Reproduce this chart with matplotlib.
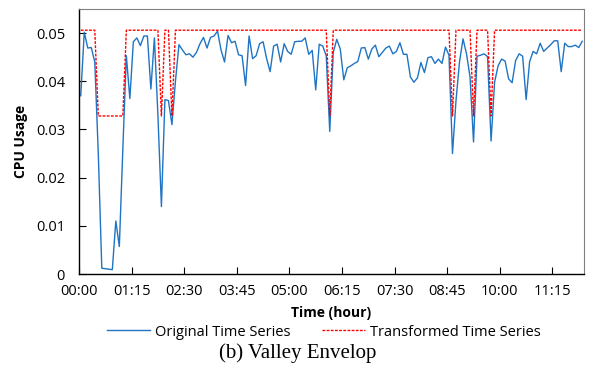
import numpy as np
import matplotlib
matplotlib.use("Agg")
from matplotlib import pyplot as plt

# CPU usage, one sample every 5 minutes (00:00 - 12:00)
original = [
    0.0370, 0.0502, 0.0469, 0.0470, 0.0440, 0.0250, 0.0012, 0.0011, 0.0010, 0.0009, 0.0110, 0.0057,
    0.0260, 0.0453, 0.0364, 0.0482, 0.0490, 0.0474, 0.0494, 0.0494, 0.0384, 0.0490, 0.0330, 0.0140,
    0.0362, 0.0360, 0.0310, 0.0400, 0.0476, 0.0465, 0.0455, 0.0457, 0.0450, 0.0460, 0.0478, 0.0491,
    0.0469, 0.0491, 0.0494, 0.0504, 0.0465, 0.0440, 0.0495, 0.0480, 0.0483, 0.0455, 0.0453, 0.0391,
    0.0494, 0.0447, 0.0453, 0.0478, 0.0482, 0.0447, 0.0420, 0.0473, 0.0477, 0.0440, 0.0478, 0.0462,
    0.0456, 0.0482, 0.0483, 0.0483, 0.0490, 0.0456, 0.0464, 0.0382, 0.0477, 0.0473, 0.0453, 0.0296,
    0.0460, 0.0487, 0.0467, 0.0403, 0.0428, 0.0432, 0.0437, 0.0441, 0.0469, 0.0470, 0.0446, 0.0467,
    0.0475, 0.0451, 0.0460, 0.0469, 0.0473, 0.0457, 0.0462, 0.0480, 0.0456, 0.0456, 0.0409, 0.0398,
    0.0407, 0.0439, 0.0418, 0.0449, 0.0451, 0.0437, 0.0446, 0.0437, 0.0471, 0.0454, 0.0250, 0.0360,
    0.0440, 0.0488, 0.0457, 0.0409, 0.0274, 0.0452, 0.0454, 0.0457, 0.0451, 0.0276, 0.0398, 0.0432,
    0.0446, 0.0442, 0.0405, 0.0397, 0.0443, 0.0457, 0.0452, 0.0362, 0.0441, 0.0462, 0.0457, 0.0479,
    0.0462, 0.0469, 0.0476, 0.0484, 0.0484, 0.0420, 0.0479, 0.0472, 0.0472, 0.0475, 0.0470, 0.0483,
]

H, L = 0.0506, 0.0328
transformed = [
    H, H, H, H, H, L, L, L, L, L, L, L,
    L, H, H, H, H, H, H, H, H, H, H, L,
    H, H, L, H, H, H, H, H, H, H, H, H,
    H, H, H, H, H, H, H, H, H, H, H, H,
    H, H, H, H, H, H, H, H, H, H, H, H,
    H, H, H, H, H, H, H, H, H, H, H, L,
    H, H, H, H, H, H, H, H, H, H, H, H,
    H, H, H, H, H, H, H, H, H, H, H, H,
    H, H, H, H, H, H, H, H, H, H, L, H,
    H, H, H, H, L, H, H, H, H, L, H, H,
    H, H, H, H, H, H, H, H, H, H, H, H,
    H, H, H, H, H, H, H, H, H, H, H, H,
]

tick_labels = ["00:00", "01:15", "02:30", "03:45", "05:00", "06:15",
               "07:30", "08:45", "10:00", "11:15"]
ytick_vals = [0, 0.01, 0.02, 0.03, 0.04, 0.05]
ytick_labels = ["0", "0.01", "0.02", "0.03", "0.04", "0.05"]

plt.rcParams['font.family'] = ['Open Sans', 'DejaVu Sans']

fig = plt.figure(figsize=(5.89, 3.73), dpi=100)
ax = fig.add_axes([79/589, 1-274/373, (584-79)/589, (274-9)/373])

x = np.arange(len(original)) + 0.5
ax.plot(x, original, color='#1f74c4', lw=1.0, label='Original Time Series')
ax.plot(x, transformed, color='#ff0000', lw=1.0, ls=(0, (2, 1)), label='Transformed Time Series')

ax.set_xlim(0, 144)
ax.set_ylim(0, 0.055)
ax.set_xticks(np.arange(len(tick_labels)) * 15)
ax.set_xticklabels(tick_labels, fontsize=10.5)
ax.set_yticks(ytick_vals)
ax.set_yticklabels(ytick_labels, fontsize=10.5)
ax.tick_params(direction='in', length=5, width=0.8)
ax.tick_params(axis='x', pad=7)
ax.tick_params(axis='y', pad=10)

for s in ['top', 'right']:
    ax.spines[s].set_color('#808080')
for s in ['left', 'bottom']:
    ax.spines[s].set_linewidth(1.0)

ax.set_xlabel("Time (hour)", fontsize=10, fontweight='bold', labelpad=5)
ax.set_ylabel("CPU Usage", fontsize=10, fontweight='bold', labelpad=6)

fig.legend(loc='center', bbox_to_anchor=(324/589, 1-332/373), ncol=2, frameon=False,
           fontsize=10.5, handlelength=2.9, columnspacing=2.2, handletextpad=0.35)

fig.text(298/589, 1-353/373, "(b) Valley Envelop", ha='center', va='center',
         fontsize=15, family='Liberation Serif')

fig.savefig("out.png", dpi=100)
